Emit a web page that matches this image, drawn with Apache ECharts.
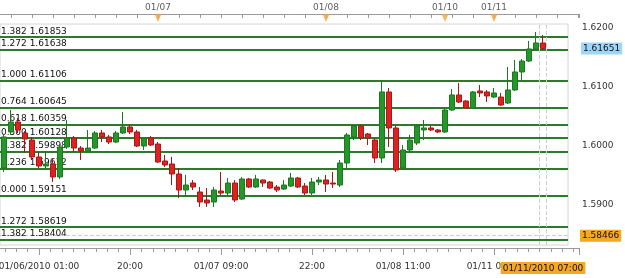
<!DOCTYPE html>
<html><head><meta charset="utf-8">
<script src="https://cdn.jsdelivr.net/npm/echarts@6/dist/echarts.min.js"></script>
<style>html,body{margin:0;padding:0;background:#fff}#c{width:625px;height:278px}</style>
</head><body><div id="c"></div>
<script>
// ---------- data ----------
const categories = [
 '01/06 01:00','01/06 02:00','01/06 03:00','01/06 04:00','01/06 05:00','01/06 06:00','01/06 07:00','01/06 08:00','01/06 09:00','01/06 10:00','01/06 11:00','01/06 12:00',
 '01/06 13:00','01/06 14:00','01/06 15:00','01/06 16:00','01/06 17:00','01/06 18:00','01/06 19:00','01/06 20:00','01/06 21:00','01/06 22:00','01/06 23:00',
 '01/07 00:00','01/07 01:00','01/07 02:00','01/07 03:00','01/07 04:00','01/07 05:00','01/07 06:00','01/07 07:00','01/07 08:00','01/07 09:00','01/07 10:00','01/07 11:00',
 '01/07 12:00','01/07 13:00','01/07 14:00','01/07 15:00','01/07 16:00','01/07 17:00','01/07 18:00','01/07 19:00','01/07 20:00','01/07 21:00','01/07 22:00','01/07 23:00',
 '01/08 00:00','01/08 01:00','01/08 02:00','01/08 03:00','01/08 04:00','01/08 05:00','01/08 06:00','01/08 07:00','01/08 08:00','01/08 09:00','01/08 10:00','01/08 11:00',
 '01/08 12:00','01/08 13:00','01/08 14:00','01/08 15:00','01/08 16:00',
 '01/10 17:00','01/10 18:00','01/10 19:00','01/10 20:00','01/10 21:00','01/10 22:00','01/10 23:00',
 '01/11 00:00','01/11 01:00','01/11 02:00','01/11 03:00','01/11 04:00','01/11 05:00','01/11 06:00','01/11 07:00'
];
const opens = [1.59840,1.59618,1.60231,1.60401,1.60214,1.60094,1.59805,1.59652,1.59686,1.59465,1.59975,1.60129,1.59958,1.59907,1.59958,1.60214,1.60146,1.60060,1.60214,1.60316,
 1.60231,1.59992,1.60129,1.60026,1.59737,1.59686,1.59516,1.59243,1.59362,1.59209,1.59073,1.59039,1.59226,1.59192,1.59362,1.59090,1.59431,1.59294,1.59414,1.59379,
 1.59294,1.59260,1.59311,1.59448,1.59311,1.59192,1.59379,1.59414,1.59362,1.59328,1.59703,1.60146,1.60333,1.60197,1.60094,1.59788,1.60912,1.60299,1.59618,1.59924,
 1.60043,1.60265,1.60299,1.60265,1.60231,1.60605,1.60861,1.60758,1.60639,1.60929,1.60912,1.60826,1.60826,1.60724,1.60946,1.61252,1.61439,1.61644,1.61746];
const closes = [1.59620,1.60146,1.60401,1.60265,1.60111,1.59805,1.59652,1.59686,1.59465,1.59975,1.60129,1.59958,1.59907,1.59958,1.60214,1.60146,1.60060,1.60214,1.60316,1.60231,
 1.59992,1.60129,1.60009,1.59720,1.59669,1.59516,1.59243,1.59328,1.59294,1.59039,1.59022,1.59243,1.59192,1.59362,1.59073,1.59431,1.59294,1.59431,1.59362,1.59277,
 1.59243,1.59328,1.59448,1.59294,1.59192,1.59379,1.59414,1.59345,1.59345,1.59703,1.60180,1.60333,1.60129,1.60129,1.59788,1.60912,1.60299,1.59584,1.59924,1.60094,
 1.60333,1.60299,1.60265,1.60231,1.60605,1.60861,1.60741,1.60639,1.60912,1.60895,1.60844,1.60895,1.60690,1.60946,1.61252,1.61439,1.61644,1.61746,1.61651];
const lows = [1.59580,1.59550,1.60180,1.60214,1.59873,1.59754,1.59618,1.59584,1.59379,1.59431,1.59941,1.59890,1.59754,1.59890,1.59941,1.60060,1.60026,1.60043,1.60197,1.60197,
 1.59975,1.59924,1.59992,1.59703,1.59635,1.59328,1.59107,1.59124,1.59243,1.58954,1.58954,1.58954,1.59158,1.59158,1.59039,1.59073,1.59277,1.59277,1.59294,1.59260,
 1.59209,1.59243,1.59294,1.59277,1.59158,1.59158,1.59328,1.59209,1.59277,1.59294,1.59618,1.60094,1.60094,1.60009,1.59703,1.59703,1.59975,1.59550,1.59584,1.59890,
 1.60009,1.60094,1.60248,1.60214,1.60214,1.60588,1.60724,1.60622,1.60622,1.60826,1.60741,1.60809,1.60673,1.60707,1.60929,1.61116,1.61422,1.61627,1.61627];
const highs = [1.59900,1.60180,1.60605,1.60469,1.60248,1.60146,1.59890,1.59890,1.59788,1.60009,1.60435,1.60163,1.59992,1.60265,1.60248,1.60265,1.60180,1.60248,1.60571,1.60350,
 1.60265,1.60146,1.60163,1.60060,1.59839,1.59805,1.59618,1.59499,1.59414,1.59294,1.59277,1.59294,1.59550,1.59448,1.59414,1.59465,1.59448,1.59499,1.59420,1.59396,
 1.59328,1.59414,1.59533,1.59465,1.59362,1.59448,1.59465,1.59499,1.59550,1.59754,1.60214,1.60350,1.60350,1.60214,1.60129,1.61116,1.60980,1.60333,1.60009,1.60180,
 1.60367,1.60435,1.60333,1.60282,1.60656,1.60963,1.61065,1.60775,1.60929,1.61031,1.60946,1.60980,1.60895,1.61337,1.61456,1.61473,1.61780,1.61933,1.61882];
const fibRatios = ['1.382','1.272','1.000','0.764','0.618','0.500','0.382','0.236','0.000','1.272','1.382'];
const fibLevels = [1.61853,1.61638,1.61106,1.60645,1.60359,1.60128,1.59898,1.59612,1.59151,1.58619,1.58404];
const bottomTickLabels = ['01/06/2010 01:00','20:00','01/07 09:00','22:00','01/08 11:00','01/11 00:00'];
const crossPrice = 1.58466;
const crossTimeLabel = '01/11/2010 07:00';
const crossIndex = 78;

// ---------- layout ----------
const FONT = 'DejaVu Sans';
const STEP = 7, X0 = -3;                 // px per candle, px of first candle
const pAt = px => (px - X0) / STEP + 1;  // position (1-based candle number) at a pixel
const MAIN_MIN = -6;                     // phase for 13-candle major ticks and 3-candle top ticks
const mainLeft = X0 + (MAIN_MIN - 1) * STEP;
const FRAME_R = 579, PLOT_R = 568;
const lastClose = closes[closes.length - 1];

const dayIdx = [], dayLabels = [];
categories.forEach((c, i) => {
  if (i > 0 && c.slice(0, 5) !== categories[i - 1].slice(0, 5)) { dayIdx.push(i); dayLabels.push(c.slice(0, 5)); }
});

const gray = '#9a9a9a';
const fibLines = fibLevels.map((v, k) => ({
  yAxis: v,
  lineStyle: { color: '#2c7a2c', width: 2, type: 'solid' },
  label: { show: true, position: 'insideStartTop', distance: [1, 1], formatter: fibRatios[k] + ' ' + v.toFixed(5),
           color: '#111', fontSize: 9, fontFamily: FONT }
}));
const badge = (bg) => ({ show: true, backgroundColor: bg, color: '#111', fontSize: 9, fontFamily: FONT, padding: [2, 2, 1, 2] });
const hidden = { color: 'rgba(0,0,0,0)', width: 0 };

const chart = echarts.init(document.getElementById('c'), null, { renderer: 'canvas' });
chart.setOption({
  animation: false,
  textStyle: { fontFamily: FONT, fontSize: 9 },
  grid: [
    { left: mainLeft, right: 625 - FRAME_R, top: 14, bottom: 30, outerBoundsMode: 'none', containLabel: false },
    { left: 0, right: 625 - PLOT_R, top: 24, bottom: 33, show: true, borderColor: '#d6d6d6', borderWidth: 1, outerBoundsMode: 'none', containLabel: false },
    { left: 0, right: 625 - FRAME_R, top: 14, height: 8, outerBoundsMode: 'none', containLabel: false }
  ],
  xAxis: [
    { gridIndex: 0, type: 'value', position: 'bottom', min: MAIN_MIN, max: pAt(FRAME_R), interval: 13,
      axisLine: { show: true, lineStyle: { color: gray } },
      axisTick: { show: true, length: 7, lineStyle: { color: gray } },
      minorTick: { show: true, splitNumber: 8, length: 4, lineStyle: { color: gray } },
      splitLine: { show: false },
      axisLabel: { show: true, margin: 14, color: '#333', fontSize: 9, fontFamily: FONT, showMaxLabel: false, showMinLabel: false,
        formatter: v => { const k = Math.round((v - 7) / 13); return (Math.abs(v - (7 + 13 * k)) < 1e-6 && k >= 0 && k < bottomTickLabels.length) ? bottomTickLabels[k] : ''; } } },
    { gridIndex: 0, type: 'value', position: 'top', min: MAIN_MIN, max: pAt(FRAME_R), interval: 3,
      axisLine: { show: true, lineStyle: { color: gray } },
      axisTick: { show: true, inside: true, length: 4, lineStyle: { color: gray } },
      axisLabel: { show: false }, splitLine: { show: false } },
    { gridIndex: 1, type: 'value', min: pAt(0), max: pAt(PLOT_R), show: false },
    { gridIndex: 2, type: 'value', min: pAt(0), max: pAt(FRAME_R), show: false }
  ],
  yAxis: [
    { gridIndex: 0, type: 'value', position: 'right', min: 1.58256, max: 1.622395, splitNumber: 4, scale: true,
      axisLine: { show: true, lineStyle: { color: gray } },
      axisTick: { show: true, inside: true, length: 8, lineStyle: { color: gray } },
      minorTick: { show: true, splitNumber: 5, length: 4, lineStyle: { color: gray } },
      splitLine: { show: false },
      axisLabel: { show: true, margin: 3, color: '#333', fontSize: 9, fontFamily: FONT, showMinLabel: false, showMaxLabel: false,
        formatter: v => v.toFixed(4) } },
    { gridIndex: 1, type: 'value', min: 1.58307, max: 1.62069, scale: true, show: false },
    { gridIndex: 2, type: 'category', data: ['d'], show: false }
  ],
  series: [
    { type: 'line', xAxisIndex: 2, yAxisIndex: 1, data: [], z: 1, silent: true,
      markLine: { silent: true, symbol: 'none', animation: false, precision: 5, z: 1, data: fibLines } },
    { type: 'candlestick', xAxisIndex: 2, yAxisIndex: 1, barWidth: 5, z: 10,
      data: categories.map((c, i) => [i + 1, opens[i], closes[i], lows[i], highs[i]]),
      itemStyle: { color: '#24962a', color0: '#de2121', borderColor: '#1a7a20', borderColor0: '#a81818', borderWidth: 1 },
      markLine: {
        silent: true, symbol: 'none', z: 1, animation: false, precision: 5,
        data: [
          { yAxis: crossPrice, lineStyle: { color: '#cfcfcf', type: 'dashed', width: 1 },
            label: Object.assign(badge('#f7a823'), { position: 'end', distance: 12, formatter: crossPrice.toFixed(5) }) },
          { yAxis: lastClose, lineStyle: hidden,
            label: Object.assign(badge('#9fd6f7'), { position: 'end', distance: 13, formatter: lastClose.toFixed(5) }) },
          { xAxis: crossIndex + 0.5, lineStyle: { color: '#cfcfcf', type: 'dashed', width: 1 }, label: { show: false } },
          { xAxis: crossIndex + 1.5, lineStyle: { color: '#cfcfcf', type: 'dashed', width: 1 }, label: { show: false } },
          { xAxis: crossIndex + 1, lineStyle: hidden,
            label: Object.assign(badge('#f7a823'), { position: 'start', distance: 17, formatter: crossTimeLabel }) }
        ]
      } },
    { type: 'scatter', xAxisIndex: 3, yAxisIndex: 2, symbol: 'triangle', symbolRotate: 180, symbolSize: [7, 8],
      itemStyle: { color: '#f2a43a' }, silent: true,
      data: dayIdx.map(i => [i + 1, 0]),
      label: { show: true, position: 'top', distance: 2, color: '#333', fontSize: 9, fontFamily: FONT,
               formatter: p => dayLabels[p.dataIndex] } }
  ]
});
</script></body></html>
